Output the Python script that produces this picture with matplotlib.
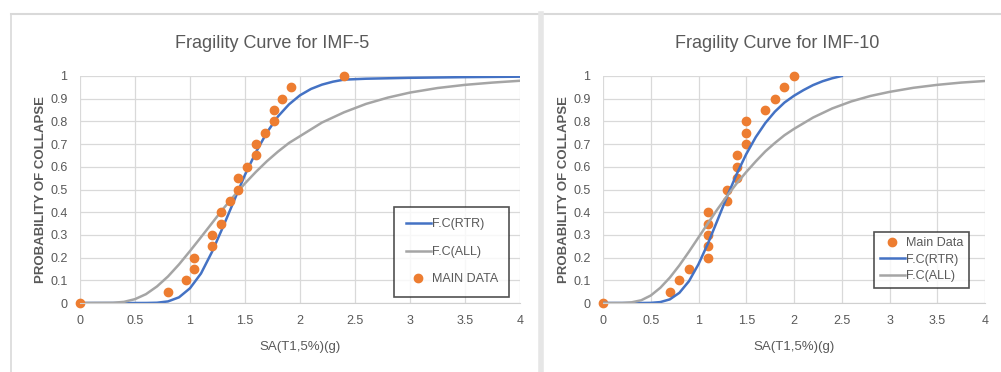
import matplotlib
matplotlib.use('Agg')
import matplotlib.pyplot as plt
from matplotlib.lines import Line2D

plt.rcParams['font.family'] = ['Liberation Sans Narrow', 'Liberation Sans', 'DejaVu Sans']

# IMF-5 main data points
imf5_sa = [0, 0.8, 0.96, 1.04, 1.04, 1.2, 1.2, 1.28, 1.28, 1.36, 1.44, 1.44,
           1.52, 1.6, 1.6, 1.68, 1.76, 1.76, 1.84, 1.92, 2.4]
imf5_p = [0, 0.05, 0.1, 0.15, 0.2, 0.25, 0.3, 0.35, 0.4, 0.45, 0.5, 0.55,
          0.6, 0.65, 0.7, 0.75, 0.8, 0.85, 0.9, 0.95, 1.0]

# IMF-5 fragility curves
imf5_rtr_x = [0, 0.5, 0.6, 0.7, 0.8, 0.9, 1.0, 1.1, 1.2, 1.3, 1.4, 1.5, 1.6, 1.7,
              1.8, 1.9, 2.0, 2.1, 2.2, 2.3, 2.4, 2.6, 3.0, 3.5, 4.0]
imf5_rtr_p = [0, 0, 0.0001, 0.0012, 0.007, 0.025, 0.065, 0.13, 0.225, 0.335, 0.45,
              0.565, 0.665, 0.752, 0.822, 0.875, 0.915, 0.943, 0.962, 0.975, 0.984,
              0.988, 0.992, 0.995, 0.997]
imf5_all_x = [0, 0.3, 0.4, 0.5, 0.6, 0.7, 0.8, 0.9, 1.0, 1.1, 1.2, 1.3, 1.4, 1.5,
              1.6, 1.7, 1.8, 1.9, 2.0, 2.2, 2.4, 2.6, 2.8, 3.0, 3.25, 3.5, 3.75, 4.0]
imf5_all_p = [0, 0.001, 0.005, 0.017, 0.039, 0.073, 0.117, 0.17, 0.229, 0.29,
              0.352, 0.414, 0.472, 0.527, 0.578, 0.625, 0.667, 0.705, 0.735, 0.795,
              0.84, 0.877, 0.905, 0.927, 0.947, 0.961, 0.971, 0.979]

# IMF-10 main data points
imf10_sa = [0, 0.7, 0.8, 0.9, 1.1, 1.1, 1.1, 1.1, 1.1, 1.3, 1.3, 1.4, 1.4, 1.4,
            1.5, 1.5, 1.5, 1.7, 1.8, 1.9, 2.0]
imf10_p = [0, 0.05, 0.1, 0.15, 0.2, 0.25, 0.3, 0.35, 0.4, 0.45, 0.5, 0.55, 0.6,
           0.65, 0.7, 0.75, 0.8, 0.85, 0.9, 0.95, 1.0]

# IMF-10 fragility curves
imf10_rtr_x = [0, 0.4, 0.5, 0.6, 0.7, 0.8, 0.9, 1.0, 1.1, 1.2, 1.3, 1.4, 1.5, 1.6,
               1.7, 1.8, 1.9, 2.0, 2.1, 2.2, 2.3, 2.4, 2.5]
imf10_rtr_p = [0, 0, 0.0006, 0.004, 0.016, 0.045, 0.096, 0.171, 0.263, 0.366,
               0.47, 0.568, 0.656, 0.731, 0.793, 0.843, 0.883, 0.913, 0.938, 0.96,
               0.977, 0.99, 1.0]
imf10_all_x = [0, 0.2, 0.3, 0.4, 0.5, 0.6, 0.7, 0.8, 0.9, 1.0, 1.1, 1.2, 1.3, 1.4,
               1.5, 1.6, 1.7, 1.8, 1.9, 2.0, 2.2, 2.4, 2.6, 2.8, 3.0, 3.25, 3.5,
               3.75, 4.0]
imf10_all_p = [0, 0.0002, 0.003, 0.012, 0.033, 0.067, 0.112, 0.166, 0.226, 0.289,
               0.352, 0.414, 0.472, 0.527, 0.577, 0.624, 0.668, 0.705, 0.739, 0.767,
               0.817, 0.857, 0.888, 0.912, 0.93, 0.948, 0.961, 0.971, 0.978]

x_ticks = [0, 0.5, 1, 1.5, 2, 2.5, 3, 3.5, 4]
x_tick_labels = ['0', '0.5', '1', '1.5', '2', '2.5', '3', '3.5', '4']
y_ticks = [0, 0.1, 0.2, 0.3, 0.4, 0.5, 0.6, 0.7, 0.8, 0.9, 1.0]
y_tick_labels = ['0', '0.1', '0.2', '0.3', '0.4', '0.5', '0.6', '0.7', '0.8', '0.9', '1']

BLUE = '#4472C4'
GREY = '#A5A5A5'
ORANGE = '#ED7D31'
TEXT = '#595959'

fig = plt.figure(figsize=(10.01, 3.72), dpi=100)

# panel frames like the Excel chart areas
fig.add_artist(Line2D([0.011, 1.0], [1 - 14 / 372, 1 - 14 / 372],
                      transform=fig.transFigure, color='#d9d9d9', lw=1.5))
fig.add_artist(Line2D([0.011, 0.011], [0, 1 - 14 / 372],
                      transform=fig.transFigure, color='#d9d9d9', lw=1.2))
fig.add_artist(Line2D([0.5405, 0.5405], [0, 1 - 14 / 372],
                      transform=fig.transFigure, color='#e6e6e6', lw=4))


def setup_axes(ax):
    ax.set_xlim(0, 4)
    ax.set_ylim(0, 1)
    ax.set_xticks(x_ticks)
    ax.set_xticklabels(x_tick_labels)
    ax.set_yticks(y_ticks)
    ax.set_yticklabels(y_tick_labels)
    ax.grid(True, color='#d9d9d9', lw=0.9)
    ax.set_axisbelow(True)
    for s in ['top', 'right', 'left']:
        ax.spines[s].set_visible(False)
    ax.spines['bottom'].set_color('#d0d0d0')
    ax.tick_params(length=0, labelsize=9, colors=TEXT, pad=9)
    ax.set_xlabel('SA(T1,5%)(g)', fontsize=9.5, color=TEXT, labelpad=10)
    ax.set_ylabel('PROBABILITY OF COLLAPSE', fontsize=9.5, color=TEXT,
                  fontweight='bold', labelpad=2)


# left chart
ax1 = fig.add_axes([80 / 1001, 69 / 372, 440 / 1001, 227 / 372])
ax1.plot(imf5_rtr_x, imf5_rtr_p, color=BLUE, lw=1.8, label='F.C(RTR)')
ax1.plot(imf5_all_x, imf5_all_p, color=GREY, lw=1.8, label='F.C(ALL)')
ax1.plot(imf5_sa, imf5_p, 'o', color=ORANGE, ms=6, label='MAIN DATA', clip_on=False)
setup_axes(ax1)
fig.text(272 / 1001, 1 - 43 / 372, 'Fragility Curve for IMF-5', fontsize=13,
         color=TEXT, ha='center', va='center')
leg1 = ax1.legend(loc='lower right', bbox_to_anchor=(0.99, 0.0), fontsize=9,
                  frameon=True, fancybox=False, edgecolor='#262626',
                  labelspacing=1.25, handlelength=2.0, borderpad=0.9,
                  handletextpad=0.1, labelcolor=TEXT)
leg1.get_frame().set_linewidth(1.2)

# right chart
ax2 = fig.add_axes([603 / 1001, 69 / 372, 382 / 1001, 227 / 372])
ax2.plot(imf10_sa, imf10_p, 'o', color=ORANGE, ms=6, label='Main Data', clip_on=False)
ax2.plot(imf10_rtr_x, imf10_rtr_p, color=BLUE, lw=1.8, label='F.C(RTR)')
ax2.plot(imf10_all_x, imf10_all_p, color=GREY, lw=1.8, label='F.C(ALL)')
setup_axes(ax2)
fig.text(777 / 1001, 1 - 43 / 372, 'Fragility Curve for IMF-10', fontsize=13,
         color=TEXT, ha='center', va='center')
leg2 = ax2.legend(loc='lower right', bbox_to_anchor=(0.975, 0.04), fontsize=9,
                  frameon=True, fancybox=False, edgecolor='#262626',
                  labelspacing=0.35, handlelength=2.0, borderpad=0.45,
                  handletextpad=0.1, labelcolor=TEXT)
leg2.get_frame().set_linewidth(1.2)

fig.savefig('out.png', dpi=100, facecolor='white')
